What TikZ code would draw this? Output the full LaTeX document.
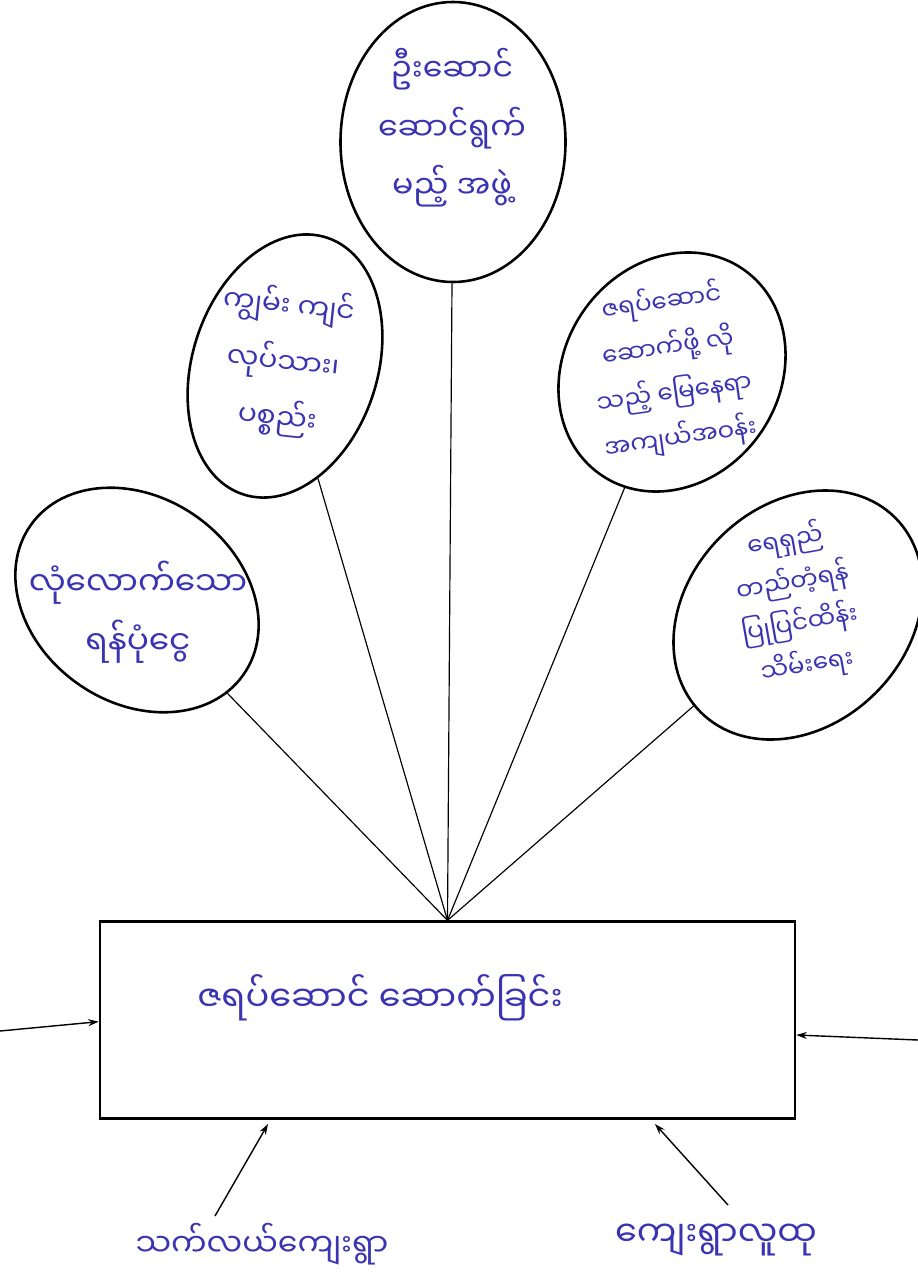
\documentclass[tikz,border=0pt]{standalone}
\usepackage{fontspec}
\newfontfamily\mmfont[Script=Myanmar]{Noto Sans Myanmar UI}
\definecolor{inkblue}{RGB}{58, 52, 178}
\usetikzlibrary{shapes.geometric, arrows.meta}

\begin{document}
\begin{tikzpicture}[x=0.03cm, y=-0.03cm,
  bubble/.style={draw, ellipse, line width=2.2pt, inner sep=0pt},
  note/.style={text=inkblue, align=center, font=\mmfont\fontsize{27}{50}\selectfont},
  spoke/.style={line width=1pt},
  feed/.style={line width=1.2pt, -{Stealth[length=9pt, width=6pt]}}
]
  \useasboundingbox (0,0) rectangle (918,1277);

  % the five needs
  \node[bubble, minimum width=6.75cm, minimum height=8.4cm] (need-top) at (453,142) {};
  \node[note] at (452,128) {ဦးဆောင်\\ဆောင်ရွက်\\မည့် အဖွဲ့};

  \node[bubble, minimum width=5.55cm, minimum height=8.1cm, rotate=-18] (need-work) at (285,366) {};
  \node[note, rotate=-6, font=\mmfont\fontsize{24}{48}\selectfont] at (283,362) {ကျွမ်း ကျင်\\လုပ်သား၊\\ပစ္စည်း};

  \node[bubble, minimum width=6.45cm, minimum height=7.5cm, rotate=-35] (need-land) at (672,372) {};
  \node[note, rotate=8, font=\mmfont\fontsize{21}{39}\selectfont] at (671,370) {ဇရပ်ဆောင်\\ဆောက်ဖို့ လို\\သည့် မြေနေရာ\\အကျယ်အဝန်း};

  \node[bubble, minimum width=7.8cm, minimum height=6.15cm, rotate=-35] (need-fund) at (137,600) {};
  \node[note, font=\mmfont\fontsize{28}{50}\selectfont] at (138,612) {လုံလောက်သော\\ရန်ပုံငွေ};

  \node[bubble, minimum width=8.25cm, minimum height=6.6cm, rotate=45] (need-care) at (798,615) {};
  \node[note, rotate=10, font=\mmfont\fontsize{21}{36}\selectfont] at (796,603) {ရေရှည်\\တည်တံ့ရန်\\ပြုပြင်ထိန်း\\သိမ်းရေး};

  % the aim
  \node[draw, line width=2.2pt, minimum width=20.85cm, minimum height=5.9cm, inner sep=0pt] (aim) at (447.5,1020) {};
  \node[note, font=\mmfont\fontsize{30}{40}\selectfont] at (380,998) {ဇရပ်ဆောင် ဆောက်ခြင်း};

  \draw[spoke] (aim.north) -- (need-top);
  \draw[spoke] (aim.north) -- (need-work);
  \draw[spoke] (aim.north) -- (need-land);
  \draw[spoke] (aim.north) -- (need-fund);
  \draw[spoke] (aim.north) -- (need-care);

  % helpers from outside
  \node[note, font=\mmfont\fontsize{27}{36}\selectfont] (village) at (262,1244) {သက်လယ်ကျေးရွာ};
  \node[note, font=\mmfont\fontsize{30}{36}\selectfont] (people) at (716,1240) {ကျေးရွာလူထု};
  \coordinate (from-left) at (0,1031);
  \coordinate (from-right) at (918,1040);
  \coordinate (from-village) at (215,1216);
  \coordinate (from-people) at (728,1205);

  \draw[feed] (from-left) -- ([yshift=-0.05cm]aim.west);
  \draw[feed] (from-right) -- ([yshift=-0.45cm]aim.east);
  \draw[feed] (from-village) -- (268,1124);
  \draw[feed] (from-people) -- (655,1124);
\end{tikzpicture}
\end{document}
